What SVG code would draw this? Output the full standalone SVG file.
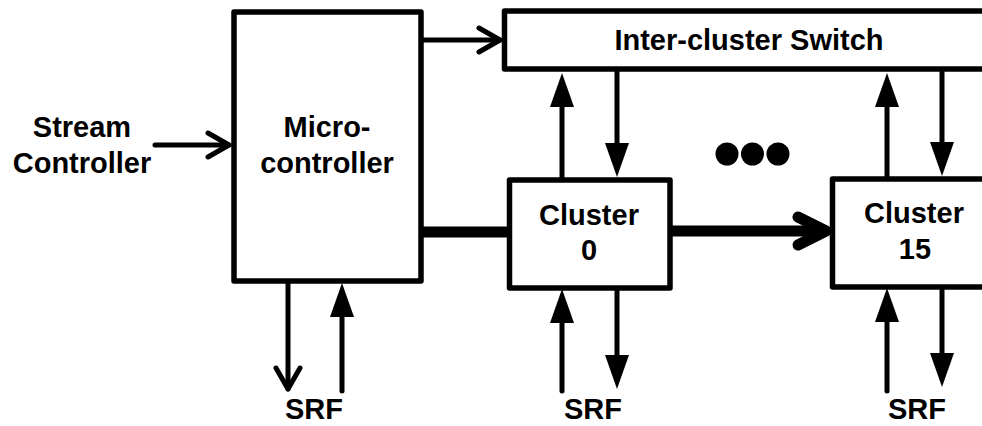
<svg xmlns="http://www.w3.org/2000/svg" width="982" height="426" viewBox="0 0 982 426">
  <style>
    .box { fill: #fff; stroke: #000; stroke-width: 5.5; stroke-linejoin: round; }
    .lbl { font-family: "Liberation Sans", Arial, sans-serif; font-weight: bold; font-size: 29px; fill: #000; text-anchor: middle; }
    .wire { fill: none; stroke: #000; stroke-width: 5; stroke-linecap: round; }
    .bus { fill: none; stroke: #000; stroke-width: 11; }
  </style>
  <defs>
    <!-- filled triangular head: base sits on the line end, tip 34px further -->
    <marker id="solidHead" markerUnits="userSpaceOnUse" markerWidth="34" markerHeight="24" viewBox="0 0 34 24" refX="0" refY="12" orient="auto">
      <path d="M0,0 L34,12 L0,24 Z" fill="#000"/>
    </marker>
    <!-- open chevron head: tip on the line end -->
    <marker id="openHead" markerUnits="userSpaceOnUse" markerWidth="34" markerHeight="34" viewBox="-28 -17 34 34" refX="0" refY="0" orient="auto" overflow="visible">
      <path d="M-21,-12 L0,0 L-21,12" fill="none" stroke="#000" stroke-width="5" stroke-linecap="round" stroke-linejoin="round"/>
    </marker>
    <!-- heavy chevron for the cluster bus -->
    <marker id="busHead" markerUnits="userSpaceOnUse" markerWidth="50" markerHeight="50" viewBox="-40 -25 50 50" refX="0" refY="0" orient="auto" overflow="visible">
      <path d="M-28,-14 L0,0 L-28,14" fill="none" stroke="#000" stroke-width="11" stroke-linecap="round" stroke-linejoin="round"/>
    </marker>
  </defs>

  <g id="connectors">
    <!-- stream controller into micro-controller -->
    <line class="wire" x1="155" y1="145" x2="229" y2="145" marker-end="url(#openHead)"/>
    <!-- micro-controller to switch -->
    <line class="wire" x1="423" y1="40" x2="500" y2="40" marker-end="url(#openHead)"/>
    <!-- cluster 0 <-> switch -->
    <line class="wire" style="stroke-linecap:butt" x1="562" y1="178" x2="562" y2="107" marker-end="url(#solidHead)"/>
    <line class="wire" style="stroke-linecap:butt" x1="617" y1="71" x2="617" y2="143" marker-end="url(#solidHead)"/>
    <!-- cluster 15 <-> switch -->
    <line class="wire" style="stroke-linecap:butt" x1="887" y1="177" x2="887" y2="107" marker-end="url(#solidHead)"/>
    <line class="wire" style="stroke-linecap:butt" x1="942" y1="71" x2="942" y2="142" marker-end="url(#solidHead)"/>
    <!-- broadcast bus -->
    <line class="bus" x1="423" y1="232" x2="508" y2="232"/>
    <line class="bus" x1="672" y1="231" x2="826" y2="231" marker-end="url(#busHead)"/>
    <!-- micro-controller <-> SRF -->
    <line class="wire" x1="288" y1="284" x2="288" y2="389" marker-end="url(#openHead)"/>
    <line class="wire" x1="342" y1="391" x2="342" y2="317" marker-end="url(#solidHead)"/>
    <!-- cluster 0 <-> SRF -->
    <line class="wire" x1="562" y1="391" x2="562" y2="323" marker-end="url(#solidHead)"/>
    <line class="wire" style="stroke-linecap:butt" x1="617" y1="290" x2="617" y2="355" marker-end="url(#solidHead)"/>
    <!-- cluster 15 <-> SRF -->
    <line class="wire" x1="887" y1="391" x2="887" y2="322" marker-end="url(#solidHead)"/>
    <line class="wire" style="stroke-linecap:butt" x1="942" y1="289" x2="942" y2="353" marker-end="url(#solidHead)"/>
  </g>

  <g id="stream-controller">
    <text class="lbl" x="82" y="137">Stream</text>
    <text class="lbl" x="82" y="173">Controller</text>
  </g>

  <g id="micro-controller">
    <rect class="box" x="234" y="12" width="187" height="269"/>
    <text class="lbl" x="327" y="137">Micro-</text>
    <text class="lbl" x="327" y="173">controller</text>
  </g>

  <g id="switch">
    <rect class="box" x="504.5" y="11" width="520" height="58"/>
    <text class="lbl" x="749" y="50">Inter-cluster Switch</text>
  </g>

  <g id="cluster-0">
    <rect class="box" x="509.5" y="180" width="160.5" height="108"/>
    <text class="lbl" x="589" y="225">Cluster</text>
    <text class="lbl" x="589" y="260">0</text>
  </g>

  <g id="cluster-15">
    <rect class="box" x="832.5" y="179" width="200" height="108"/>
    <text class="lbl" x="914" y="223">Cluster</text>
    <text class="lbl" x="915" y="259">15</text>
  </g>

  <g id="ellipsis">
    <circle cx="727" cy="154" r="11.5"/>
    <circle cx="752.5" cy="154" r="11.5"/>
    <circle cx="778" cy="154" r="11.5"/>
  </g>

  <g id="srf-labels">
    <text class="lbl" x="314" y="419">SRF</text>
    <text class="lbl" x="593" y="419">SRF</text>
    <text class="lbl" x="917" y="419">SRF</text>
  </g>
</svg>
